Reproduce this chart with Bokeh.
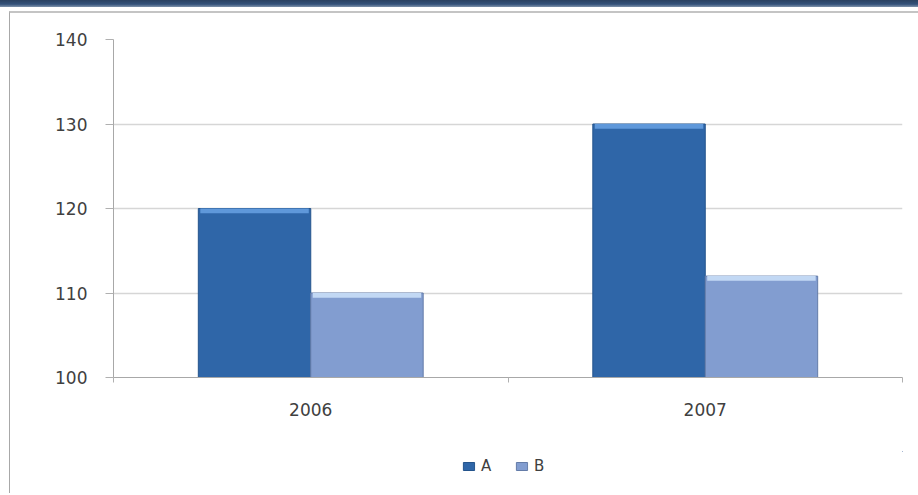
from bokeh.plotting import figure
from bokeh.models import (ColumnDataSource, Range1d, FixedTicker, Legend, LegendItem,
                          Spacer)
from bokeh.layouts import column, row
from bokeh.transform import dodge
from bokeh.embed import file_html
from bokeh.resources import INLINE

years = ["2006", "2007"]
series_a = [120, 130]
series_b = [110, 112]
y_ticks = [100, 110, 120, 130, 140]
series_names = ["A", "B"]

pos = [i + 0.5 for i in range(len(years))]
src = ColumnDataSource(dict(
    x=pos, a=series_a, b=series_b,
    a_hl=[v - 0.55 for v in series_a],
    b_hl=[v - 0.55 for v in series_b],
))

style_a = dict(fill_color="#2f66a8", line_color="#24548c", line_width=1)
style_b = dict(fill_color="#829dd0", line_color="#647ca8", line_width=1)

p = figure(width=909, height=440, output_backend="svg", toolbar_location=None,
           x_range=Range1d(0, len(years)), y_range=Range1d(y_ticks[0], y_ticks[-1]),
           min_border_left=103, min_border_right=17, min_border_top=26,
           min_border_bottom=76, outline_line_color=None,
           background_fill_color="white", border_fill_color="white")
p.styles = {"border-left": "1px solid #a8a8a8", "border-top": "2px solid #c4c4c4"}

bw = 0.285
off = bw / 2
p.vbar(x=dodge("x", -off, range=p.x_range), top="a", bottom=y_ticks[0], width=bw,
       source=src, **style_a)
p.vbar(x=dodge("x", -off, range=p.x_range), top="a", bottom="a_hl", width=bw - 0.01,
       source=src, fill_color="#5f98da", line_color=None)
p.vbar(x=dodge("x", off, range=p.x_range), top="b", bottom=y_ticks[0], width=bw,
       source=src, **style_b)
p.vbar(x=dodge("x", off, range=p.x_range), top="b", bottom="b_hl", width=bw - 0.01,
       source=src, fill_color="#c2d8f4", line_color=None)

font = "DejaVu Sans"
xa = p.xaxis[0]
xa.ticker = FixedTicker(ticks=pos, minor_ticks=list(range(len(years) + 1)))
xa.major_label_overrides = {pv: y for pv, y in zip(pos, years)}
xa.major_tick_out = 0
xa.major_tick_in = 0
xa.minor_tick_out = 5
xa.minor_tick_in = 0
xa.minor_tick_line_color = "#b0b0b0"
xa.axis_line_color = "#a8a8a8"
xa.major_label_text_font = font
xa.major_label_text_font_size = "17px"
xa.major_label_text_color = "#404040"
xa.major_label_standoff = 20

ya = p.yaxis[0]
ya.ticker = FixedTicker(ticks=y_ticks)
ya.major_tick_out = 8
ya.major_tick_in = 0
ya.minor_tick_line_color = None
ya.major_tick_line_color = "#b0b0b0"
ya.axis_line_color = "#a8a8a8"
ya.major_label_text_font = font
ya.major_label_text_font_size = "17px"
ya.major_label_text_color = "#404040"
ya.major_label_standoff = 18

p.xgrid.grid_line_color = None
p.ygrid.ticker = FixedTicker(ticks=y_ticks)
p.ygrid.grid_line_color = "#d6d6d6"
p.ygrid.grid_line_width = 1.5

# legend strip below the chart (its swatch bars lie outside its visible range)
lf = figure(width=909, height=30, output_backend="svg", toolbar_location=None,
            x_range=Range1d(0, 1), y_range=Range1d(0, 1),
            x_axis_location=None, y_axis_location=None,
            min_border=0, outline_line_color=None, background_fill_color="white",
            border_fill_color="white")
lf.styles = {"border-left": "1px solid #a8a8a8"}
lf.grid.visible = False
swatch = ColumnDataSource(dict(x=[5], top=[6], bottom=[5]))
la = lf.vbar(x="x", top="top", bottom="bottom", width=0.1, source=swatch, **style_a)
lb = lf.vbar(x="x", top="top", bottom="bottom", width=0.1, source=swatch, **style_b)
legend = Legend(items=[LegendItem(label=series_names[0], renderers=[la]),
                       LegendItem(label=series_names[1], renderers=[lb])],
                orientation="horizontal", location="center",
                label_text_font=font, label_text_font_size="15px",
                label_text_color="#404040", glyph_width=14, glyph_height=10,
                label_standoff=6, spacing=13, border_line_color=None,
                background_fill_alpha=0, padding=2, margin=0)
lf.add_layout(legend)

bottom_pad = Spacer(width=909, height=12, styles={"border-left": "1px solid #a8a8a8"})

banner = Spacer(width=918, height=7, styles={
    "background": "linear-gradient(#2a4160, #34527a 60%, #7f93ab)"})
layout = column(banner, Spacer(width=918, height=4),
                row(Spacer(width=9, height=482), column(p, lf, bottom_pad, spacing=0),
                    spacing=0),
                spacing=0)

open("out.html", "w").write(file_html(layout, INLINE))
